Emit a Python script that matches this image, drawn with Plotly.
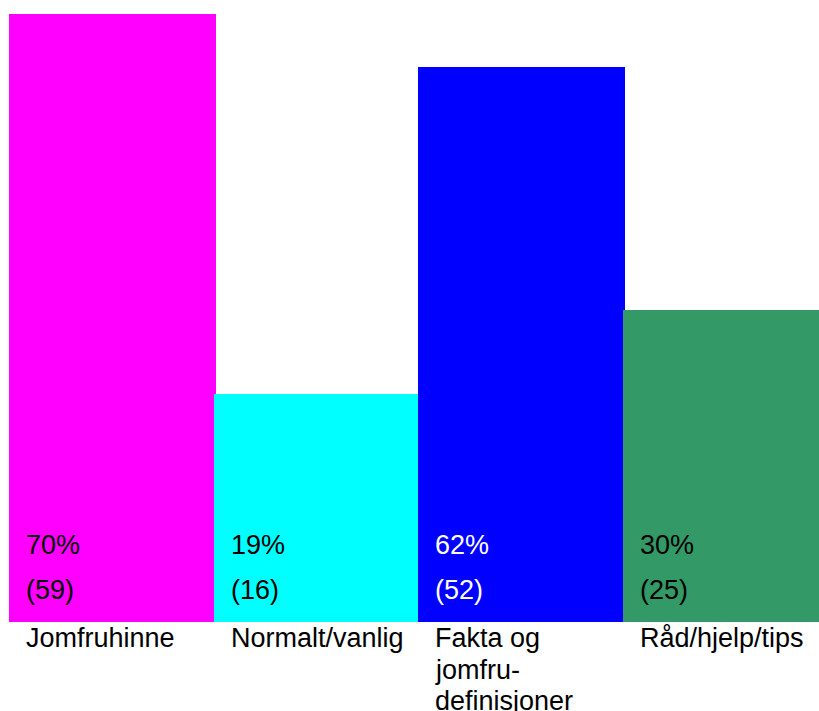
import plotly.graph_objects as go

# ---- data ----
categories = ["Jomfruhinne", "Normalt/vanlig", "Fakta og<br>jomfru-<br>definisjoner", "Råd/hjelp/tips"]
percent_labels = ["70%", "19%", "62%", "30%"]
count_labels = ["(59)", "(16)", "(52)", "(25)"]
bar_heights = [70.0, 26.2, 63.9, 35.9]  # heights as drawn in the picture
bar_colors = ["#FF00FF", "#00FFFF", "#0000FF", "#339966"]
text_colors = ["#000000", "#000000", "#FFFFFF", "#000000"]

FONT = "Liberation Sans, Arial, sans-serif"
FS = 27
LINE_STEP = 31.5
x_pos = list(range(len(categories)))

fig = go.Figure()
fig.add_trace(go.Bar(
    x=x_pos, y=bar_heights, width=1.01,
    marker=dict(color=bar_colors, line=dict(width=0)),
    hoverinfo="skip",
))

annotations = []
for i in x_pos:
    annotations.append(dict(x=i - 0.5, y=8.9, xref="x", yref="y", text=percent_labels[i],
                            showarrow=False, xanchor="left", yanchor="middle", xshift=14,
                            font=dict(family=FONT, size=FS, color=text_colors[i])))
    annotations.append(dict(x=i - 0.5, y=3.7, xref="x", yref="y", text=count_labels[i],
                            showarrow=False, xanchor="left", yanchor="middle", xshift=14,
                            font=dict(family=FONT, size=FS, color=text_colors[i])))
    for k, line in enumerate(categories[i].split("<br>")):
        annotations.append(dict(x=i - 0.5, y=0, xref="x", yref="paper", text=line,
                                showarrow=False, xanchor="left", yanchor="top", xshift=14,
                                yshift=1 - LINE_STEP * k, align="left",
                                font=dict(family=FONT, size=FS, color="#000000")))

fig.update_layout(
    width=819, height=711,
    margin=dict(l=0, r=0, t=0, b=89, pad=0),
    paper_bgcolor="white", plot_bgcolor="white",
    showlegend=False,
    bargap=0,
    xaxis=dict(range=[-0.549, 3.452], visible=False, fixedrange=True),
    yaxis=dict(range=[0, 71.6], visible=False, fixedrange=True),
    annotations=annotations,
)

fig.write_html("out.html", config={"displayModeBar": False},
               post_script="document.body.style.margin='0';document.body.style.overflow='hidden';")
